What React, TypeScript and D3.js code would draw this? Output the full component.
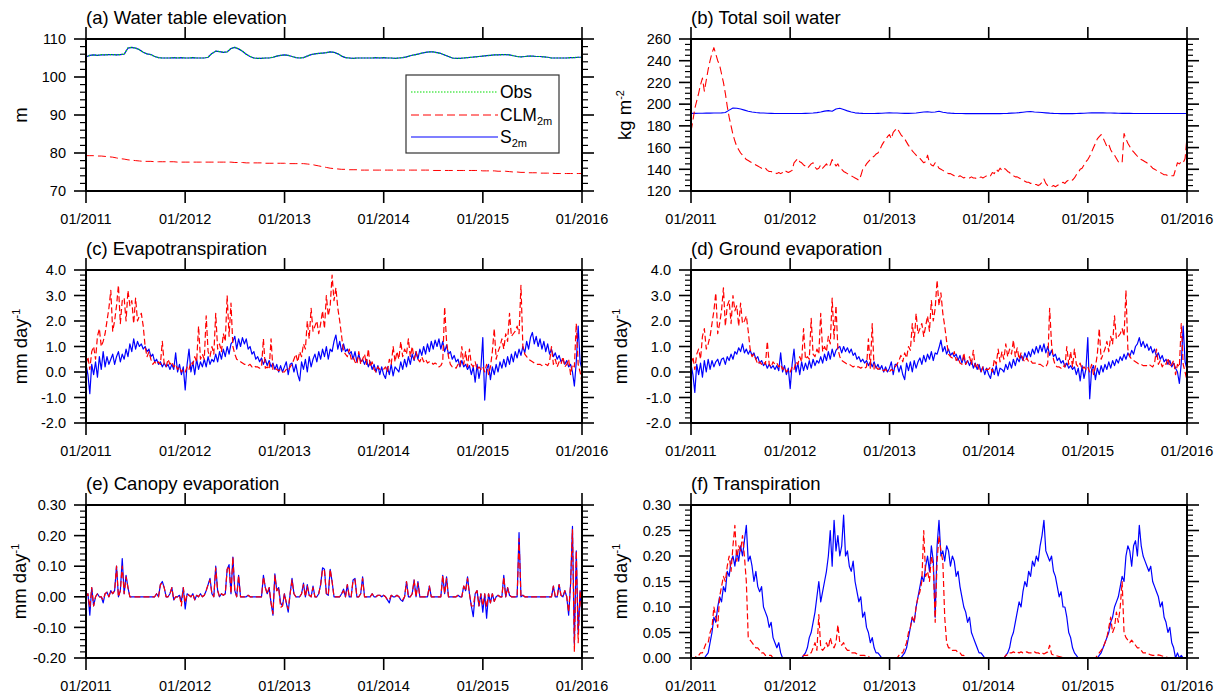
import React from 'react';
import * as d3 from 'd3';

// ---------- time axis ----------
const START = new Date(2011, 0, 1);
const END = new Date(2016, 0, 1);
const xTickYears = [2011, 2012, 2013, 2014, 2015, 2016];
const xTickLabels = ['01/2011', '01/2012', '01/2013', '01/2014', '01/2015', '01/2016'];

// ---------- y ticks ----------
const yTicksA = [70, 80, 90, 100, 110];
const yTicksB = [120, 140, 160, 180, 200, 220, 240, 260];
const yTicksCD = [-2, -1, 0, 1, 2, 3, 4];
const yTicksE = [-0.2, -0.1, 0, 0.1, 0.2, 0.3];
const yTicksF = [0, 0.05, 0.1, 0.15, 0.2, 0.25, 0.3];

// ---------- (a) water table elevation, bi-weekly (m) ----------
const wtObs = [
  105.3, 105.7, 105.8, 105.7, 105.9, 105.8, 105.9, 105.9, 105.8, 105.9, 106.0, 107.7, 107.8, 107.6, 107.2, 106.5, 106.1, 105.9, 105.4, 105.1, 105.0, 105.0, 105.0, 105.1, 105.0, 105.1,
  105.0, 105.0, 105.1, 105.0, 105.0, 105.0, 105.2, 106.2, 106.8, 106.7, 106.5, 106.6, 107.5, 107.8, 107.4, 106.8, 106.0, 105.4, 105.0, 104.9, 104.9, 105.0, 105.0, 105.2, 105.5, 105.7,
  105.8, 105.7, 105.4, 105.1, 105.0, 105.1, 105.5, 105.9, 106.1, 106.2, 106.3, 106.4, 106.6, 106.5, 106.1, 105.5, 105.1, 105.0, 104.9, 105.0, 105.0, 105.0, 105.0, 105.0, 105.1, 105.0,
  105.1, 105.0, 105.0, 104.9, 105.0, 105.1, 105.3, 105.6, 105.8, 106.0, 106.3, 106.5, 106.6, 106.6, 106.4, 106.2, 105.8, 105.4, 105.0, 104.9, 104.9, 105.0, 105.1, 105.2, 105.3, 105.4,
  105.5, 105.6, 105.7, 105.8, 105.8, 105.9, 105.9, 105.8, 105.6, 105.4, 105.3, 105.4, 105.5, 105.5, 105.4, 105.4, 105.3, 105.2, 105.0, 105.0, 105.0, 105.0, 105.0, 105.1, 105.1, 105.2,
  105.2,
];
const wtS2m = [
  105.3, 105.7, 105.8, 105.7, 105.8, 105.8, 105.9, 105.9, 105.8, 105.9, 106.0, 107.6, 107.8, 107.6, 107.2, 106.5, 106.1, 105.9, 105.4, 105.1, 105.0, 105.0, 105.0, 105.1, 105.0, 105.1,
  105.0, 105.0, 105.1, 105.0, 105.0, 105.0, 105.2, 106.2, 106.8, 106.7, 106.5, 106.6, 107.5, 107.8, 107.4, 106.8, 106.0, 105.4, 105.0, 104.9, 104.9, 105.0, 105.0, 105.2, 105.5, 105.7,
  105.8, 105.7, 105.4, 105.1, 105.0, 105.1, 105.5, 105.9, 106.1, 106.2, 106.3, 106.4, 106.6, 106.5, 106.1, 105.5, 105.1, 105.0, 104.9, 105.0, 105.0, 105.0, 105.0, 105.0, 105.1, 105.0,
  105.1, 105.0, 105.0, 104.9, 105.0, 105.1, 105.3, 105.6, 105.8, 106.0, 106.3, 106.5, 106.6, 106.6, 106.4, 106.2, 105.8, 105.4, 105.0, 104.9, 104.9, 105.0, 105.1, 105.2, 105.3, 105.4,
  105.5, 105.6, 105.7, 105.8, 105.8, 105.9, 105.9, 105.8, 105.6, 105.4, 105.3, 105.4, 105.5, 105.5, 105.4, 105.4, 105.3, 105.2, 105.0, 105.0, 105.0, 105.0, 105.0, 105.1, 105.1, 105.2,
  105.2,
];
const wtCLM = [
  79.3, 79.3, 79.3, 79.2, 79.2, 79.1, 79.0, 78.9, 78.7, 78.5, 78.4, 78.2, 78.1, 78.0, 77.9, 77.8, 77.8, 77.8, 77.7, 77.7, 77.7, 77.7, 77.7, 77.7, 77.6, 77.6,
  77.6, 77.6, 77.6, 77.6, 77.6, 77.6, 77.6, 77.6, 77.6, 77.6, 77.6, 77.6, 77.6, 77.5, 77.5, 77.5, 77.4, 77.4, 77.4, 77.4, 77.4, 77.3, 77.3, 77.3, 77.3, 77.3,
  77.3, 77.2, 77.2, 77.2, 77.2, 77.2, 77.1, 77.0, 76.8, 76.6, 76.4, 76.2, 76.0, 75.9, 75.8, 75.7, 75.7, 75.6, 75.6, 75.6, 75.5, 75.5, 75.5, 75.5, 75.5, 75.5,
  75.5, 75.5, 75.5, 75.5, 75.5, 75.5, 75.5, 75.5, 75.5, 75.5, 75.5, 75.5, 75.5, 75.4, 75.4, 75.4, 75.4, 75.4, 75.4, 75.4, 75.4, 75.4, 75.4, 75.4, 75.4, 75.4,
  75.3, 75.3, 75.3, 75.3, 75.2, 75.2, 75.2, 75.1, 75.0, 75.0, 74.9, 74.9, 74.8, 74.8, 74.8, 74.7, 74.7, 74.7, 74.7, 74.6, 74.6, 74.6, 74.6, 74.6, 74.6, 74.6,
  74.6,
];

// ---------- (b) total soil water (kg m-2) ----------
const swS2m = [ // bi-weekly
  191.5, 191.5, 191.6, 191.6, 191.7, 191.7, 191.8, 191.8, 192.0, 192.3, 194.5, 196.5, 196.2, 195.5, 194.5, 193.5, 192.8, 192.3, 192.0, 191.8, 191.6, 191.5, 191.4, 191.4, 191.4, 191.4,
  191.4, 191.4, 191.4, 191.4, 191.5, 191.6, 191.8, 192.2, 192.8, 193.6, 194.0, 193.5, 195.5, 196.2, 195.0, 193.8, 192.8, 192.0, 191.7, 191.5, 191.4, 191.4, 191.4, 191.5, 191.6, 191.8,
  192.0, 191.9, 191.8, 191.6, 191.5, 191.5, 191.6, 191.8, 192.3, 192.8, 193.0, 192.6, 192.8, 193.5, 192.6, 192.0, 191.7, 191.5, 191.4, 191.4, 191.3, 191.3, 191.3, 191.3, 191.3, 191.3,
  191.3, 191.3, 191.3, 191.3, 191.4, 191.5, 191.7, 191.9, 192.2, 192.6, 193.0, 193.2, 192.8, 192.6, 192.3, 192.0, 191.7, 191.5, 191.4, 191.3, 191.3, 191.3, 191.3, 191.4, 191.5, 191.6,
  191.8, 192.0, 192.0, 192.1, 192.0, 191.9, 191.8, 191.7, 191.6, 191.5, 191.5, 191.5, 191.4, 191.4, 191.4, 191.4, 191.4, 191.4, 191.4, 191.4, 191.4, 191.4, 191.4, 191.4, 191.4, 191.4,
  191.4,
];
const swCLM = [ // weekly
  175, 185, 196, 203, 210, 218, 224, 212, 222, 232, 240, 247, 252, 246, 240, 236, 228, 220, 210, 198, 188, 180, 172, 166, 161, 158,
  155, 153, 151, 149, 148, 147, 146, 145, 144, 143, 142, 141, 140, 141, 139, 138, 138, 137, 137, 136, 137, 136, 137, 139, 138, 137,
  138, 139, 146, 148, 150, 147, 146, 144, 143, 141, 143, 145, 146, 142, 140, 141, 144, 141, 143, 145, 142, 144, 149, 146, 143, 145,
  141, 140, 138, 137, 136, 135, 134, 133, 132, 131, 130, 134, 140, 142, 145, 147, 149, 151, 152, 154, 155, 158, 162, 165, 167, 170,
  172, 168, 174, 176, 178, 175, 172, 170, 168, 165, 162, 160, 157, 155, 153, 151, 150, 148, 146, 147, 153, 146, 144, 143, 146, 144,
  141, 140, 139, 138, 137, 136, 136, 135, 134, 134, 133, 134, 133, 132, 133, 132, 132, 133, 132, 132, 131, 132, 133, 132, 133, 134,
  133, 134, 137, 136, 140, 138, 141, 139, 141, 140, 138, 137, 135, 134, 133, 133, 132, 131, 130, 129, 128, 128, 127, 127, 126, 126,
  125, 126, 128, 131, 127, 125, 124, 124, 125, 124, 125, 126, 127, 128, 127, 129, 130, 131, 130, 132, 135, 137, 140, 141, 144, 147,
  149, 152, 156, 160, 164, 168, 170, 172, 169, 165, 161, 163, 158, 155, 153, 150, 147, 146, 146, 173, 168, 164, 161, 158, 156, 154,
  152, 150, 149, 148, 147, 146, 144, 143, 141, 140, 139, 138, 137, 136, 135, 135, 134, 134, 134, 134, 140, 146, 145, 147, 146, 150,
  170,
];

// ---------- (c) evapotranspiration, weekly (mm day-1) ----------
const etS2m = [
  0.3, -0.1, -0.85, 0.3, -0.1, 0.4, -0.2, 0.6, 0.1, 0.8,
  0.2, 0.6, 0.3, 0.5, 0.7, 0.3, 0.6, 0.8, 0.4, 0.7,
  0.5, 0.9, 0.6, 1.1, 0.8, 1.3, 0.9, 1.2, 1.0, 1.1,
  0.9, 1.0, 0.8, 0.9, 0.6, 0.7, 0.4, 0.5, 0.3, 0.4,
  0.2, 0.35, 0.2, 0.3, 0.1, 0.3, 0.1, 0.75, 0.0, 0.3,
  -0.1, 0.2,
  -0.7, 0.3, 0.9, 0.0, 0.4, -0.1, 0.5, 0.1, 0.4, 0.2,
  0.5, 0.2, 0.6, 0.3, 0.5, 0.4, 0.7, 0.4, 0.8, 0.5,
  0.9, 0.6, 1.0, 0.7, 1.1, 1.2, 1.4, 0.9, 1.3, 1.0,
  1.35, 1.1, 1.3, 0.9, 1.0, 0.7, 0.8, 0.5, 0.6, 0.4,
  0.55, 0.3, 0.5, 0.25, 0.45, 0.2, 0.35, 0.1, 0.3, 0.0,
  0.25, 0.0,
  0.2, 0.4, -0.1, 0.3, 0.35, 0.0, 0.3, -0.1, -0.35, 0.4,
  0.1, 0.5, 0.0, 0.6, 0.2, 0.5, 0.7, 0.4, 0.8, 0.5,
  0.9, 0.6, 1.0, 0.5, 0.9, 0.8, 1.2, 1.45, 0.9, 1.2,
  0.8, 1.1, 0.8, 0.9, 0.7, 0.8, 0.5, 0.8, 0.4, 0.7,
  0.4, 0.5, 0.3, 0.5, 0.2, 0.4, 0.1, 0.3, 0.0, 0.25,
  -0.1, 0.2,
  -0.1, -0.25, 0.2, -0.1, 0.3, -0.15, 0.2, 0.1, 0.0, 0.4,
  0.1, 0.5, 0.2, 0.6, 0.3, 0.7, 0.45, 0.8, 0.5, 0.9,
  0.65, 1.0, 0.7, 1.1, 0.8, 1.2, 0.9, 1.25, 1.0, 1.3,
  0.9, 1.2, 0.8, 1.05, 0.7, 0.8, 0.5, 0.65, 0.4, 0.5,
  0.2, 0.45, 0.2, 0.3, 0.1, 0.25, -0.1, 0.2, -0.4, 0.3,
  -0.25, 0.15,
  1.35, -1.1, 0.1, 0.3, -0.3, 0.2, -0.1, 0.3, 0.0, 0.4,
  0.15, 0.5, 0.2, 0.6, 0.3, 0.7, 0.4, 0.8, 0.55, 0.9,
  0.65, 1.0, 0.75, 1.2, 0.9, 1.35, 1.55, 1.1, 1.4, 1.0,
  1.3, 0.9, 1.2, 0.8, 1.1, 0.7, 0.9, 0.6, 0.75, 0.5,
  0.65, 0.4, 0.5, 0.3, 0.45, 0.2, 0.3, 0.0, -0.55, 0.4,
  1.8, 0.4,
  0.1,
];
const etCLM = [
  0.3, 0.6, 0.1, 0.8, 1.0, 0.5, 1.4, 1.7, 1.0, 1.2, 1.5, 2.0, 2.5, 3.2, 1.6, 2.0, 2.6, 3.4, 1.9, 2.8,
  2.9, 2.0, 3.2, 2.6, 2.8, 1.9, 2.9, 2.0, 2.2, 2.3, 1.8, 1.0, 0.6, 0.8, 0.5, 0.3, 0.4, 0.3, 0.4, 0.3,
  1.2, 0.3, 0.2, 0.5, 0.3, 0.4, 0.2, 0.3, 0.1, 0.2, 0.0, 0.1,
  0.0, 0.2, 0.1, 0.4, 0.3, 0.6, 0.4, 1.8, 0.5, 0.7, 0.5, 2.2, 0.8, 0.6, 1.0, 0.7, 2.3, 0.9, 1.1, 0.8,
  1.5, 1.2, 3.0, 1.4, 2.7, 1.0, 0.7, 0.5, 0.45, 0.4, 0.35, 0.3, 0.3, 0.25, 0.3, 0.2, 0.25, 0.2, 0.2, 0.15,
  0.2, 1.3, 0.15, 0.2, 0.1, 1.3, 0.1, 0.15, 0.1, 0.05, 0.1, 0.0,
  0.0, 0.1, 0.05, 0.2, 0.3, 0.5, 0.7, 0.4, 0.8, 0.6, 1.1, 0.9, 2.0, 1.3, 2.5, 1.6, 1.8, 2.0, 1.5, 1.9,
  2.4, 1.7, 3.0, 2.2, 2.6, 3.8, 2.8, 3.3, 2.5, 2.0, 1.4, 0.8, 0.7, 0.6, 0.9, 0.5, 0.6, 0.4, 0.3, 0.8,
  0.3, 0.5, 0.7, 0.3, 0.9, 0.2, 0.4, 0.1, 0.0, 0.2, 0.1, 0.1,
  0.1, 0.2, 0.0, 0.5, 0.3, 1.0, 0.4, 0.8, 0.5, 1.2, 0.6, 0.9, 0.7, 1.3, 0.6, 1.0, 0.5, 0.8, 0.5, 0.4,
  0.6, 0.4, 0.5, 0.35, 0.4, 0.4, 0.3, 0.35, 0.3, 0.2, 0.25, 0.4, 2.55, 1.2, 0.6, 0.3, 0.2, 0.2, 0.15, 0.3,
  0.2, 1.0, 0.3, 0.8, 0.2, 0.9, 0.3, 0.2, 0.4, 0.1, 0.2, 0.1,
  0.2, 0.0, 0.3, -0.1, 0.2, 0.8, 1.7, 0.5, 0.8, 1.0, 1.3, 0.9, 1.5, 1.2, 2.3, 1.4, 1.5, 1.6, 1.8, 1.5,
  3.4, 1.0, 0.7, 0.6, 0.5, 0.45, 0.4, 0.35, 0.3, 0.3, 0.3, 0.25, 0.3, 0.3, 0.25, 0.4, 1.0, 0.3, 0.5, 0.2,
  0.4, 0.3, 0.6, 0.2, 0.3, 0.5, -0.1, 0.3, 0.2, 1.9, 0.3, 0.0,
  -0.4,
];

// ---------- (d) ground evaporation, weekly (mm day-1) ----------
const geS2m = [
  0.3, -0.1, -0.8, 0.3, -0.1, 0.35, -0.2, 0.45, 0.0, 0.5,
  0.1, 0.45, 0.2, 0.4, 0.5, 0.25, 0.5, 0.55, 0.3, 0.6,
  0.45, 0.7, 0.5, 0.8, 0.7, 0.95, 0.8, 1.1, 0.75, 0.9,
  0.7, 0.85, 0.65, 0.75, 0.5, 0.6, 0.35, 0.45, 0.25, 0.35,
  0.15, 0.3, 0.15, 0.25, 0.1, 0.25, 0.05, 0.75, 0.0, 0.25,
  -0.1, 0.15,
  -0.65, 0.3, 0.9, 0.0, 0.35, -0.1, 0.4, 0.05, 0.35, 0.1,
  0.45, 0.15, 0.5, 0.25, 0.45, 0.35, 0.6, 0.35, 0.7, 0.45,
  0.8, 0.5, 0.9, 0.6, 0.85, 0.95, 1.0, 0.75, 1.0, 0.8,
  0.95, 0.75, 0.9, 0.65, 0.75, 0.5, 0.6, 0.4, 0.5, 0.35,
  0.45, 0.25, 0.4, 0.2, 0.4, 0.15, 0.3, 0.1, 0.25, 0.0,
  0.2, 0.0,
  0.15, 0.4, -0.1, 0.3, 0.3, 0.0, 0.25, -0.1, -0.3, 0.35,
  0.05, 0.4, 0.0, 0.45, 0.15, 0.4, 0.55, 0.3, 0.65, 0.4,
  0.7, 0.5, 0.8, 0.45, 0.75, 0.7, 0.95, 1.25, 0.8, 1.0,
  0.7, 0.9, 0.65, 0.75, 0.6, 0.7, 0.45, 0.65, 0.35, 0.6,
  0.3, 0.45, 0.25, 0.45, 0.15, 0.35, 0.1, 0.3, 0.0, 0.2,
  -0.1, 0.15,
  -0.1, -0.25, 0.15, -0.1, 0.25, -0.15, 0.15, 0.1, 0.0, 0.3,
  0.1, 0.4, 0.15, 0.5, 0.25, 0.55, 0.4, 0.65, 0.45, 0.75,
  0.55, 0.8, 0.6, 0.9, 0.7, 1.0, 0.75, 1.05, 0.8, 1.1,
  0.75, 1.0, 0.65, 0.85, 0.6, 0.7, 0.45, 0.55, 0.35, 0.45,
  0.2, 0.35, 0.15, 0.25, 0.1, 0.2, -0.1, 0.15, -0.35, 0.25,
  -0.25, 0.1,
  1.35, -1.05, 0.1, 0.25, -0.3, 0.15, -0.1, 0.25, 0.0, 0.3,
  0.1, 0.4, 0.15, 0.45, 0.25, 0.5, 0.35, 0.6, 0.45, 0.7,
  0.5, 0.75, 0.6, 0.85, 0.7, 1.0, 1.1, 1.35, 1.0, 1.2,
  0.95, 1.1, 0.85, 1.0, 0.75, 0.9, 0.6, 0.75, 0.5, 0.65,
  0.4, 0.5, 0.3, 0.45, 0.2, 0.35, 0.15, 0.0, -0.45, 0.35,
  1.8, 0.4,
  0.1,
];
const geCLM = [
  0.3, 0.6, 0.1, 0.7, 0.9, 0.5, 1.4, 1.7, 0.9, 1.1, 1.4, 1.9, 2.4, 3.1, 1.5, 1.9, 2.4, 3.3, 1.8, 2.6,
  2.8, 1.9, 3.0, 2.4, 2.6, 1.8, 2.7, 1.9, 2.0, 2.2, 1.6, 0.9, 0.6, 0.7, 0.5, 0.3, 0.4, 0.3, 0.4, 0.3,
  1.2, 0.3, 0.2, 0.4, 0.3, 0.35, 0.2, 0.3, 0.1, 0.2, 0.0, 0.1,
  0.0, 0.2, 0.1, 0.4, 0.3, 0.6, 0.4, 1.7, 0.5, 0.6, 0.5, 2.1, 0.7, 0.6, 0.9, 0.7, 2.3, 0.8, 1.0, 0.8,
  1.4, 1.1, 2.9, 1.3, 2.6, 0.9, 0.6, 0.45, 0.4, 0.35, 0.3, 0.3, 0.25, 0.2, 0.25, 0.2, 0.2, 0.15, 0.2, 0.15,
  0.2, 1.3, 0.15, 1.9, 0.1, 0.2, 0.1, 0.15, 0.1, 0.05, 0.1, 0.0,
  0.0, 0.1, 0.05, 0.2, 0.3, 0.45, 0.65, 0.4, 0.75, 0.55, 1.0, 0.85, 1.9, 1.2, 2.3, 1.5, 1.7, 1.9, 1.4, 1.8,
  2.2, 1.6, 2.8, 2.0, 2.5, 3.6, 2.6, 3.1, 2.3, 1.8, 1.2, 0.7, 0.6, 0.55, 0.8, 0.45, 0.55, 0.35, 0.3, 0.75,
  0.3, 0.45, 0.6, 0.3, 0.85, 0.2, 0.35, 0.1, 0.0, 0.2, 0.1, 0.1,
  0.1, 0.2, 0.0, 0.5, 0.3, 0.9, 0.4, 0.8, 0.5, 1.1, 0.6, 0.9, 0.7, 1.25, 0.6, 0.95, 0.5, 0.75, 0.5, 0.4,
  0.55, 0.4, 0.45, 0.35, 0.35, 0.35, 0.3, 0.3, 0.25, 0.2, 0.2, 0.35, 2.5, 1.1, 0.5, 0.25, 0.2, 0.2, 0.15, 0.25,
  0.2, 1.0, 0.3, 0.8, 0.2, 0.9, 0.3, 0.2, 0.35, 0.1, 0.2, 0.1,
  0.2, 0.0, 0.3, -0.1, 0.2, 0.7, 1.7, 0.5, 0.7, 0.9, 1.2, 0.8, 1.4, 1.1, 2.2, 1.3, 1.4, 1.5, 1.7, 1.4,
  3.2, 0.9, 0.6, 0.5, 0.45, 0.4, 0.35, 0.3, 0.3, 0.25, 0.25, 0.25, 0.3, 0.25, 0.2, 0.35, 0.9, 0.3, 0.45, 0.2,
  0.35, 0.3, 0.55, 0.2, 0.3, 0.45, -0.1, 0.3, 0.2, 1.9, 0.3, 0.0,
  -0.35,
];

// ---------- (e) canopy evaporation, weekly (mm day-1) ----------
const ceS2m = [
  0, 0.01, -0.06, 0.03, -0.03, 0, 0.01, 0, 0, -0.02, 0.01, 0.015, 0, 0.02, 0.01, 0.02, 0.1, 0, 0.02, 0.125,
  0.01, 0.07, 0.03, 0, 0, 0, 0, 0, 0, 0, 0, 0, 0, 0, 0, 0, 0, 0.01, 0, 0.04,
  0.05, 0.03, 0, 0, 0.01, 0.03, -0.01, 0, 0, 0.005, -0.015, 0.03,
  -0.04, 0.01, 0.005, 0, 0.01, -0.01, 0.005, 0, 0.01, 0, 0.005, 0.02, 0.04, 0.06, 0.01, 0, 0.1, 0.02, 0, 0.01,
  0.005, 0.01, 0.09, 0.105, 0.01, 0.13, 0.02, 0, 0.07, 0, 0, 0, 0, 0.005, 0, 0, 0, 0, 0, 0,
  0, 0.07, 0.03, 0.01, 0.03, -0.02, -0.06, 0.075, 0.02, 0.03, -0.02, -0.03,
  0.01, -0.02, -0.05, 0.01, 0.06, 0.01, 0, 0, 0, 0.01, 0.045, 0, 0.04, 0.005, 0, 0.035, 0, 0, 0.01, 0.04,
  0.095, 0.09, 0.01, 0.005, 0.09, 0.05, 0, 0, 0, 0, 0.01, 0.025, 0, 0.04, 0, 0, 0.055, 0.06, 0, 0,
  0.01, 0.065, 0, 0, 0, 0, 0.01, 0, 0, 0.005, 0.005, 0,
  0.005, 0, -0.01, -0.02, 0.005, 0, 0, 0.005, 0, -0.01, -0.015, 0, 0.05, 0, 0, 0.01, 0.055, 0, 0.05, 0,
  0, 0, 0, 0, 0.035, 0, 0, 0, 0, 0, 0, 0.07, 0.01, 0.065, 0, 0, 0, 0, 0, 0.005,
  0, 0, 0.035, 0.02, 0.065, 0.01, -0.03, -0.065, 0.01, 0.02, -0.03, 0.01,
  -0.05, 0.01, -0.07, 0.01, -0.02, 0.01, -0.015, 0, 0.005, 0, 0, 0.07, 0, 0.03, 0.005, 0, 0, 0, 0, 0.21,
  0, 0.005, 0, 0, 0, 0, 0, 0, 0, 0, 0, 0, 0, 0, 0, 0, 0, 0.035, 0, 0,
  0.04, 0.005, 0, 0.02, 0, -0.06, 0.04, 0.23, -0.155, 0.15, -0.12, 0.02,
  -0.065,
];
const ceCLM = [
  0, 0.01, -0.035, 0.03, -0.03, 0, 0.01, 0, 0, -0.01, 0.01, 0.015, 0, 0.02, 0.01, 0.02, 0.1, 0, 0.02, 0.1,
  0.01, 0.065, 0.03, 0, 0, 0, 0, 0, 0, 0, 0, 0, 0, 0, 0, 0, 0, 0.01, 0, 0.04,
  0.045, 0.03, 0, 0, 0.01, 0.03, -0.01, 0, 0, 0.005, -0.03, 0.03,
  -0.02, 0.01, 0.005, 0, 0.01, -0.01, 0.005, 0, 0.01, 0, 0.005, 0.02, 0.04, 0.055, 0.01, 0, 0.095, 0.02, 0, 0.01,
  0.005, 0.01, 0.09, 0.1, 0.01, 0.13, 0.02, 0, 0.07, 0, 0, 0, 0, 0.005, 0, 0, 0, 0, 0, 0,
  0, 0.065, 0.03, 0.01, 0.03, -0.02, -0.055, 0.07, 0.02, 0.03, -0.035, -0.03,
  0.01, -0.02, -0.04, 0.01, 0.055, 0.01, 0, 0, 0, 0.01, 0.04, 0, 0.035, 0.005, 0, 0.03, 0, 0, 0.01, 0.04,
  0.09, 0.085, 0.01, 0.005, 0.09, 0.05, 0, 0, 0, 0, 0.01, 0.02, 0, 0.04, 0, 0, 0.055, 0.055, 0, 0,
  0.01, 0.06, 0, 0, 0, 0, 0.01, 0, 0, 0.005, 0.005, 0,
  0.005, 0, -0.01, -0.01, 0.005, 0, 0, 0.005, 0, -0.005, -0.01, 0, 0.05, 0, 0, 0.01, 0.055, 0, 0.045, 0,
  0, 0, 0, 0, 0.035, 0, 0, 0, 0, 0, 0, 0.07, 0.01, 0.06, 0, 0, 0, 0, 0, 0.005,
  0, 0, 0.035, 0.02, 0.06, 0.01, -0.03, -0.03, 0.01, 0.02, -0.03, 0.01,
  -0.03, 0.01, -0.035, 0.01, -0.02, 0.01, -0.015, 0, 0.005, 0, 0, 0.065, 0, 0.03, 0.005, 0, 0, 0, 0, 0.19,
  0, 0.005, 0, 0, 0, 0, 0, 0, 0, 0, 0, 0, 0, 0, 0, 0, 0, 0.035, 0, 0,
  0.04, 0.005, 0, 0.02, 0, -0.05, 0.04, 0.22, -0.18, 0.15, -0.15, 0.02,
  -0.065,
];

// ---------- (f) transpiration, weekly (mm day-1) ----------
const trS2m = [
  0, 0, 0, 0, 0, 0, 0, 0, 0.005, 0.01, 0.03, 0.05, 0.08, 0.07, 0.1, 0.12, 0.11, 0.14, 0.13, 0.17,
  0.16, 0.19, 0.2, 0.18, 0.21, 0.19, 0.22, 0.2, 0.23, 0.26, 0.19, 0.2, 0.18, 0.15, 0.17, 0.14, 0.13, 0.14, 0.1, 0.09,
  0.08, 0.06, 0.07, 0.04, 0.03, 0.02, 0.03, 0.01, 0, 0, 0, 0,
  0, 0, 0, 0, 0, 0, 0, 0.005, 0.01, 0.02, 0.04, 0.05, 0.07, 0.09, 0.12, 0.15, 0.11, 0.13, 0.15, 0.17,
  0.2, 0.25, 0.18, 0.27, 0.21, 0.24, 0.2, 0.22, 0.28, 0.2, 0.21, 0.18, 0.17, 0.19, 0.15, 0.13, 0.11, 0.12, 0.08, 0.09,
  0.06, 0.05, 0.03, 0.04, 0.02, 0.01, 0.01, 0.005, 0, 0, 0, 0,
  0, 0, 0, 0, 0, 0, 0, 0.005, 0.01, 0.02, 0.04, 0.06, 0.08, 0.07, 0.1, 0.12, 0.14, 0.16, 0.15, 0.18,
  0.2, 0.17, 0.22, 0.19, 0.08, 0.22, 0.27, 0.2, 0.21, 0.19, 0.22, 0.21, 0.18, 0.2, 0.19, 0.16, 0.17, 0.14, 0.12, 0.1,
  0.09, 0.07, 0.08, 0.05, 0.04, 0.03, 0.02, 0.01, 0.01, 0.005, 0, 0,
  0, 0, 0, 0, 0, 0, 0, 0, 0, 0.005, 0.01, 0.02, 0.04, 0.05, 0.07, 0.09, 0.11, 0.1, 0.13, 0.15,
  0.14, 0.17, 0.16, 0.19, 0.18, 0.2, 0.19, 0.22, 0.24, 0.27, 0.21, 0.2, 0.19, 0.2, 0.17, 0.16, 0.14, 0.12, 0.13, 0.1,
  0.1, 0.08, 0.05, 0.04, 0.02, 0.01, 0.005, 0, 0, 0, 0, 0,
  0, 0, 0, 0, 0, 0, 0.005, 0.01, 0.02, 0.03, 0.04, 0.05, 0.07, 0.08, 0.1, 0.11, 0.12, 0.14, 0.16, 0.15,
  0.2, 0.22, 0.21, 0.18, 0.22, 0.23, 0.2, 0.26, 0.22, 0.2, 0.19, 0.18, 0.17, 0.18, 0.15, 0.14, 0.13, 0.12, 0.1, 0.11,
  0.08, 0.07, 0.05, 0.06, 0.03, 0.02, 0, 0.01, 0, 0.005, 0, 0,
  0,
];
const trCLM = [
  0, 0, 0, 0.005, 0.005, 0.01, 0.01, 0.02, 0.03, 0.03, 0.05, 0.06, 0.1, 0.08, 0.06, 0.12, 0.14, 0.16, 0.15, 0.18,
  0.2, 0.17, 0.22, 0.26, 0.19, 0.22, 0.21, 0.24, 0.2, 0.15, 0.04, 0.035, 0.03, 0.025, 0.02, 0.02, 0.015, 0.01, 0.01, 0.005,
  0.005, 0.005, 0.005, 0, 0, 0, 0, 0, 0, 0, 0, 0,
  0, 0, 0, 0, 0, 0, 0, 0.005, 0.005, 0.005, 0.01, 0.01, 0.02, 0.03, 0.015, 0.085, 0.02, 0.015, 0.02, 0.03,
  0.02, 0.04, 0.025, 0.02, 0.03, 0.065, 0.03, 0.025, 0.03, 0.02, 0.015, 0.015, 0.01, 0.01, 0.01, 0.008, 0.005, 0.005, 0.005, 0.005,
  0.003, 0.003, 0, 0, 0, 0, 0, 0, 0, 0, 0, 0,
  0, 0, 0, 0, 0, 0.005, 0.01, 0.01, 0.02, 0.03, 0.05, 0.06, 0.08, 0.07, 0.1, 0.12, 0.13, 0.15, 0.25, 0.16,
  0.17, 0.15, 0.2, 0.18, 0.07, 0.19, 0.24, 0.21, 0.19, 0.08, 0.03, 0.02, 0.02, 0.015, 0.015, 0.015, 0.01, 0.01, 0.005, 0.005,
  0.003, 0, 0, 0, 0, 0, 0, 0, 0, 0, 0, 0,
  0, 0, 0, 0, 0, 0, 0, 0, 0, 0.005, 0.008, 0.01, 0.01, 0.012, 0.01, 0.012, 0.01, 0.012, 0.01, 0.01,
  0.012, 0.01, 0.01, 0.01, 0.012, 0.01, 0.01, 0.008, 0.01, 0.008, 0.01, 0.012, 0.025, 0.008, 0.006, 0.005, 0.004, 0.003, 0.002, 0.001,
  0, 0, 0, 0, 0, 0, 0, 0, 0, 0, 0, 0,
  0, 0, 0, 0, 0, 0.005, 0.01, 0.015, 0.02, 0.03, 0.04, 0.06, 0.08, 0.05, 0.06, 0.09, 0.07, 0.1, 0.15, 0.05,
  0.04, 0.035, 0.03, 0.035, 0.03, 0.025, 0.02, 0.02, 0.015, 0.01, 0.01, 0.01, 0.008, 0.006, 0.005, 0.005, 0.005, 0.006, 0.005, 0.004,
  0.003, 0.002, 0.001, 0, 0, 0, 0, 0, 0, 0, 0, 0,
  0,
];

// ---------- styling / layout ----------
const FONT = '"Liberation Sans", Arial, Helvetica, sans-serif';
const RED = '#ff0000';
const BLUE = '#0000ff';
const GREEN = '#00dd00';
const PW = 496;
const COLS = [86, 691];
const ROWS = [
  { top: 39, h: 152 },
  { top: 270, h: 153 },
  { top: 505, h: 153 },
];

type Series = { values: number[]; color: string; dash?: string; width?: number };
type PanelCfg = {
  id: string;
  col: number;
  row: number;
  title: string;
  ylab: string;
  ysup: string;
  yTicks: number[];
  minor: number;
  digits: number;
  series: Series[];
  legend?: boolean;
  ylabX: number;
};

const toPoints = (vals: number[]): [number, number][] => {
  const t0 = START.getTime();
  const span = END.getTime() - t0;
  return vals.map((v, i) => [t0 + (i * span) / (vals.length - 1), v]);
};

const panels: PanelCfg[] = [
  {
    id: 'a', col: 0, row: 0, title: '(a) Water table elevation', ylab: 'm', ysup: '',
    yTicks: yTicksA, minor: 2, digits: 0, legend: true, ylabX: -59,
    series: [
      { values: wtCLM, color: RED, dash: '8,4', width: 1 },
      { values: wtS2m, color: BLUE, width: 1.2 },
      { values: wtObs, color: GREEN, dash: '1.5,1.5', width: 1.2 },
    ],
  },
  {
    id: 'b', col: 1, row: 0, title: '(b) Total soil water', ylab: 'kg m', ysup: '-2',
    yTicks: yTicksB, minor: 5, digits: 0, ylabX: -60,
    series: [
      { values: swS2m, color: BLUE, width: 1.1 },
      { values: swCLM, color: RED, dash: '8,4', width: 1.1 },
    ],
  },
  {
    id: 'c', col: 0, row: 1, title: '(c) Evapotranspiration', ylab: 'mm day', ysup: '-1',
    yTicks: yTicksCD, minor: 0.2, digits: 1, ylabX: -59,
    series: [
      { values: etS2m, color: BLUE, width: 1.2 },
      { values: etCLM, color: RED, dash: '6,3', width: 1.2 },
    ],
  },
  {
    id: 'd', col: 1, row: 1, title: '(d) Ground evaporation', ylab: 'mm day', ysup: '-1',
    yTicks: yTicksCD, minor: 0.2, digits: 1, ylabX: -64,
    series: [
      { values: geS2m, color: BLUE, width: 1.2 },
      { values: geCLM, color: RED, dash: '6,3', width: 1.2 },
    ],
  },
  {
    id: 'e', col: 0, row: 2, title: '(e) Canopy evaporation', ylab: 'mm day', ysup: '-1',
    yTicks: yTicksE, minor: 0.02, digits: 2, ylabX: -60,
    series: [
      { values: ceS2m, color: BLUE, width: 1.2 },
      { values: ceCLM, color: RED, dash: '6,3', width: 1.2 },
    ],
  },
  {
    id: 'f', col: 1, row: 2, title: '(f) Transpiration', ylab: 'mm day', ysup: '-1',
    yTicks: yTicksF, minor: 0.01, digits: 2, ylabX: -64,
    series: [
      { values: trS2m, color: BLUE, width: 1.2 },
      { values: trCLM, color: RED, dash: '6,3', width: 1.2 },
    ],
  },
];

function Panel({ cfg }: { cfg: PanelCfg }) {
  const left = COLS[cfg.col];
  const { top, h } = ROWS[cfg.row];
  const yMin = cfg.yTicks[0];
  const yMax = cfg.yTicks[cfg.yTicks.length - 1];
  const x = d3.scaleTime().domain([START, END]).range([0, PW]);
  const y = d3.scaleLinear().domain([yMin, yMax]).range([h, 0]);
  const line = d3
    .line<[number, number]>()
    .x((d) => x(d[0]))
    .y((d) => y(d[1]));

  const nMinor = Math.round((yMax - yMin) / cfg.minor);
  const minorVals = d3
    .range(nMinor + 1)
    .map((i) => yMin + i * cfg.minor)
    .filter((v) => !cfg.yTicks.some((t) => Math.abs(t - v) < cfg.minor / 10));
  const xDates = xTickYears.map((yr) => new Date(yr, 0, 1));
  const clipId = `clip-${cfg.id}`;
  const MAJ = 12;
  const MIN = 6;

  return (
    <g transform={`translate(${left},${top})`}>
      <defs>
        <clipPath id={clipId}>
          <rect x={0} y={0} width={PW} height={h} />
        </clipPath>
      </defs>
      <g clipPath={`url(#${clipId})`}>
        {cfg.series.map((s, i) => (
          <path
            key={i}
            d={line(toPoints(s.values)) || ''}
            fill="none"
            stroke={s.color}
            strokeWidth={s.width ?? 1}
            strokeDasharray={s.dash}
            strokeLinejoin="round"
          />
        ))}
      </g>
      {cfg.yTicks.map((t, i) => (
        <g key={`yt${i}`}>
          <line x1={0} x2={-MAJ} y1={y(t)} y2={y(t)} stroke="#000" strokeWidth={1.6} />
          <line x1={PW} x2={PW + MAJ} y1={y(t)} y2={y(t)} stroke="#000" strokeWidth={1.6} />
          <text x={-20} y={y(t)} dy="0.36em" textAnchor="end" fontSize={14.5}>
            {t.toFixed(cfg.digits)}
          </text>
        </g>
      ))}
      {minorVals.map((t, i) => (
        <g key={`ym${i}`}>
          <line x1={0} x2={-MIN} y1={y(t)} y2={y(t)} stroke="#000" strokeWidth={1.2} />
          <line x1={PW} x2={PW + MIN} y1={y(t)} y2={y(t)} stroke="#000" strokeWidth={1.2} />
        </g>
      ))}
      {xDates.map((d, i) => (
        <g key={`xt${i}`}>
          <line x1={x(d)} x2={x(d)} y1={h} y2={h + MAJ} stroke="#000" strokeWidth={1.6} />
          <line x1={x(d)} x2={x(d)} y1={0} y2={-MAJ} stroke="#000" strokeWidth={1.6} />
          <text x={x(d)} y={h + 33} textAnchor="middle" fontSize={14.5}>
            {xTickLabels[i]}
          </text>
        </g>
      ))}
      <rect x={0} y={0} width={PW} height={h} fill="none" stroke="#000" strokeWidth={2} />
      <text x={0} y={-15} fontSize={18.5}>
        {cfg.title}
      </text>
      <text
        transform={`translate(${cfg.ylabX},${h / 2}) rotate(-90)`}
        textAnchor="middle"
        fontSize={18.5}
      >
        {cfg.ylab}
        {cfg.ysup && (
          <tspan dy={-7} fontSize={11}>
            {cfg.ysup}
          </tspan>
        )}
      </text>
      {cfg.legend && (
        <g>
          <rect x={320} y={36} width={153} height={78} fill="#fff" stroke="#333" strokeWidth={1.2} />
          <line x1={325} x2={412} y1={53} y2={53} stroke={GREEN} strokeWidth={1.2} strokeDasharray="1.5,1.5" />
          <text x={414} y={59} fontSize={17.5}>Obs</text>
          <line x1={325} x2={412} y1={76} y2={76} stroke={RED} strokeWidth={1} strokeDasharray="8,4" />
          <text x={414} y={82} fontSize={17.5}>
            CLM<tspan dy={4} fontSize={11}>2m</tspan>
          </text>
          <line x1={325} x2={412} y1={98} y2={98} stroke={BLUE} strokeWidth={1.2} />
          <text x={414} y={104} fontSize={17.5}>
            S<tspan dy={4} fontSize={11}>2m</tspan>
          </text>
        </g>
      )}
    </g>
  );
}

export default function App() {
  return (
    <svg
      width={1220}
      height={696}
      style={{ position: 'absolute', left: 0, top: 0, background: '#fff' }}
      fontFamily={FONT}
    >
      <rect x={0} y={0} width={1220} height={696} fill="#fff" />
      {panels.map((p) => (
        <Panel key={p.id} cfg={p} />
      ))}
    </svg>
  );
}
